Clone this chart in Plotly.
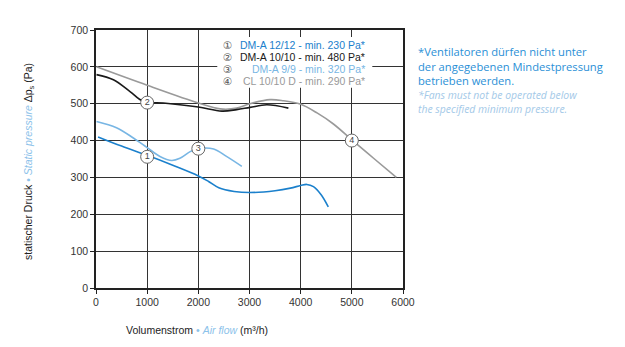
import plotly.graph_objects as go

# ---- data ----
s1_name = "DM-A 12/12 - min. 230 Pa*"
s1_x = [40, 500, 1000, 1500, 2000, 2200, 2400, 2700, 3000, 3500, 3800, 4000, 4120, 4250, 4400, 4540]
s1_y = [410, 385, 360, 333, 304, 289, 272, 262, 259, 264, 271, 278, 281, 275, 253, 220]

s2_name = "DM-A 10/10 - min. 480 Pa*"
s2_x = [10, 340, 665, 925, 1315, 2000, 2460, 2750, 3010, 3340, 3760]
s2_y = [579, 565, 533, 506, 502, 491, 480, 484, 490, 497, 488]

s3_name = "DM-A 9/9 - min. 320 Pa*"
s3_x = [10, 400, 730, 1000, 1250, 1480, 1640, 1840, 2000, 2300, 2550, 2850]
s3_y = [452, 435, 407, 381, 357, 346, 352, 370, 378, 377, 357, 330]

s4_name = "CL 10/10 D - min. 290 Pa*"
s4_x = [10, 1000, 2000, 2425, 2750, 3010, 3400, 3665, 3990, 4320, 4640, 5000, 5425, 5870]
s4_y = [600, 550, 502, 486, 488, 500, 511, 508, 499, 475, 445, 402, 352, 300]

label_nums = ["1", "2", "3", "4"]
label_x = [1000, 1000, 2000, 5000]
label_y = [356, 503, 378, 400]

circled = ["①", "②", "③", "④"]
x_ticks = [0, 1000, 2000, 3000, 4000, 5000, 6000]
y_ticks = [0, 100, 200, 300, 400, 500, 600, 700]

note_de = ["*Ventilatoren dürfen nicht unter", "der angegebenen Mindestpressung", "betrieben werden."]
note_en = ["*Fans must not be operated below", "the specified minimum pressure."]

C1 = "#1b80cc"
C2 = "#1a1a1a"
C3 = "#78b6e4"
C4 = "#9a9a9a"
LIGHT = "#8cc2ea"

fig = go.Figure()
for xs, ys, col, nm in [(s4_x, s4_y, C4, s4_name), (s2_x, s2_y, C2, s2_name),
                        (s3_x, s3_y, C3, s3_name), (s1_x, s1_y, C1, s1_name)]:
    fig.add_trace(go.Scatter(x=xs, y=ys, mode="lines", name=nm,
                             line=dict(color=col, width=1.6, shape="spline", smoothing=1.0),
                             hoverinfo="skip", showlegend=False))

fig.add_trace(go.Scatter(x=label_x, y=label_y, mode="markers+text", text=label_nums,
                         textposition="middle center",
                         textfont=dict(family="Liberation Sans", size=9, color="#444"),
                         marker=dict(symbol="circle", size=13, color="white",
                                     line=dict(color="#666", width=1)),
                         showlegend=False, hoverinfo="skip"))

ax_font = dict(family="Liberation Sans", size=10.5, color="#333")
fig.update_xaxes(range=[0, 6000], tickvals=x_ticks, showgrid=True, gridcolor="#333", gridwidth=1.1,
                 showline=True, linecolor="#222", linewidth=1.6, mirror=True, zeroline=False,
                 ticks="outside", ticklen=4, tickcolor="#222", tickfont=ax_font)
fig.update_yaxes(range=[0, 700], tickvals=y_ticks, showgrid=True, gridcolor="#333", gridwidth=1.1,
                 showline=True, linecolor="#222", linewidth=1.6, mirror=True, zeroline=False,
                 ticks="outside", ticklen=4, tickcolor="#222", tickfont=ax_font)

# legend box covering grid
fig.add_shape(type="rect", xref="x", yref="y", x0=2370, x1=5400, y0=543, y1=681,
              fillcolor="white", line=dict(width=0), layer="above")

PW = 307.0
PH = 258.0
def px(xp):
    return (xp - 96) / PW
def py(yp):
    return (288 - yp) / PH

annos = []
leg_rows = [(s1_name, C1), (s2_name, C2), (s3_name, C3), (s4_name, C4)]
leg_y = [45, 57, 69, 81]
for i, (nm, col) in enumerate(leg_rows):
    annos.append(dict(xref="paper", yref="paper", x=px(227), y=py(leg_y[i]), text=circled[i],
                      showarrow=False, xanchor="center", yanchor="middle",
                      font=dict(family="DejaVu Sans", size=10.5, color="#555")))
    annos.append(dict(xref="paper", yref="paper", x=px(367), y=py(leg_y[i]), text=nm,
                      showarrow=False, xanchor="right", yanchor="middle",
                      font=dict(family="Liberation Sans", size=10.5, color=col)))

annos.append(dict(xref="paper", yref="paper", x=px(416), y=py(42), text="<br>".join(note_de),
                  showarrow=False, xanchor="left", yanchor="top", align="left",
                  font=dict(family="Open Sans", size=11.2, color="#2a8fd6")))
annos.append(dict(xref="paper", yref="paper", x=px(416), y=py(86),
                  text="<br>".join("<i>" + t + "</i>" for t in note_en),
                  showarrow=False, xanchor="left", yanchor="top", align="left",
                  font=dict(family="Open Sans", size=10.4, color="#a3c9e8")))

annos.append(dict(xref="paper", yref="paper", x=px(124), y=py(330), xanchor="left", yanchor="middle",
                  showarrow=False,
                  text="Volumenstrom <span style='color:%s'>• <i>Air flow</i></span> (m³/h)" % LIGHT,
                  font=dict(family="Liberation Sans", size=10.5, color="#222")))
annos.append(dict(xref="paper", yref="paper", x=px(29), y=py(162), xanchor="center", yanchor="middle",
                  showarrow=False, textangle=-90,
                  text="statischer Druck <span style='color:%s'>• <i>Static pressure</i></span> Δp<sub>s</sub> (Pa)" % LIGHT,
                  font=dict(family="Liberation Sans", size=10.5, color="#222")))

fig.update_layout(width=625, height=347, margin=dict(l=96, r=222, t=30, b=59),
                  paper_bgcolor="white", plot_bgcolor="white", annotations=annos,
                  showlegend=False)

fig.write_html("out.html")
